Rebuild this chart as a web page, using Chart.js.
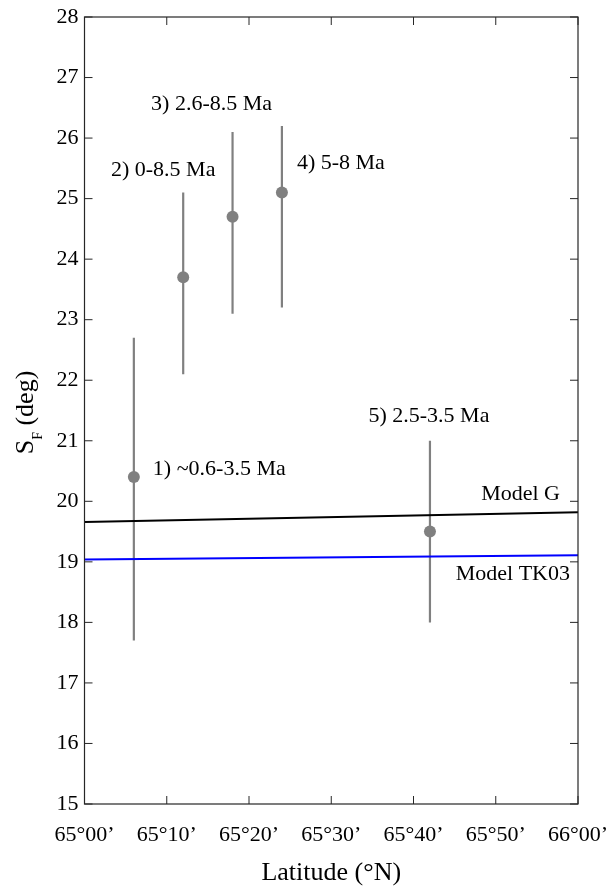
<!DOCTYPE html>
<html>
<head>
<meta charset="utf-8">
<script src="https://cdn.jsdelivr.net/npm/chart.js@4.4.0/dist/chart.umd.min.js"></script>
<style>
  html, body { margin: 0; padding: 0; background: #ffffff; }
  #wrap { width: 611px; height: 886px; }
</style>
</head>
<body>
<div id="wrap"><canvas id="c" width="611" height="886"></canvas></div>
<script>
// Site results: latitude (decimal degrees N), S_F mean and its confidence bounds (deg)
const siteLabels = ['1) ~0.6-3.5 Ma', '2) 0-8.5 Ma', '3) 2.6-8.5 Ma', '4) 5-8 Ma', '5) 2.5-3.5 Ma'];
const siteLat = [65.1, 65.2, 65.3, 65.4, 65.7];
const sfMean = [20.4, 23.7, 24.7, 25.1, 19.5];
const sfLow = [17.7, 22.1, 23.1, 23.2, 18.0];
const sfHigh = [22.7, 25.1, 26.1, 26.2, 21.0];

// Model predictions across the latitude window
const modelLat = [65.0, 66.0];
const modelG = [19.66, 19.82];
const modelTK03 = [19.04, 19.11];

// Axis ticks
const latTicks = [65.0, 65 + 1 / 6, 65 + 2 / 6, 65.5, 65 + 4 / 6, 65 + 5 / 6, 66.0];
const latTickLabels = ['65°00’', '65°10’', '65°20’', '65°30’', '65°40’', '65°50’', '66°00’'];
const sfTicks = [15, 16, 17, 18, 19, 20, 21, 22, 23, 24, 25, 26, 27, 28];

// Label placement (pixel offsets from the mark they describe)
const labelStyle = [
  { from: 'mean', dx: 19, dy: -8, align: 'left' },
  { from: 'high', dx: -20, dy: -22, align: 'center' },
  { from: 'high', dx: -21, dy: -28, align: 'center' },
  { from: 'mean', dx: 15, dy: -29, align: 'left' },
  { from: 'high', dx: -1, dy: -25, align: 'center' }
];

const SERIF = '"Liberation Serif", "Times New Roman", serif';
const TEXT = '#000000';
const AXIS = '#262626';
const MARK = '#808080';

const errorBarSets = siteLat.map((lat, i) => ({
  type: 'line',
  data: [{ x: lat, y: sfLow[i] }, { x: lat, y: sfHigh[i] }],
  borderColor: MARK,
  borderWidth: 2.2,
  pointRadius: 0,
  fill: false
}));

const modelSet = (vals, color) => ({
  type: 'line',
  data: modelLat.map((x, i) => ({ x, y: vals[i] })),
  borderColor: color,
  borderWidth: 2,
  pointRadius: 0,
  fill: false
});

const decorations = {
  id: 'decorations',
  afterDraw(chart) {
    const { ctx, chartArea: a, scales: { x, y } } = chart;
    ctx.save();

    // axes box
    ctx.strokeStyle = AXIS;
    ctx.lineWidth = 1.2;
    ctx.strokeRect(a.left, a.top, a.right - a.left, a.bottom - a.top);

    // inward tick marks on all four sides
    const tl = 8;
    ctx.lineWidth = 1;
    ctx.beginPath();
    latTicks.forEach(v => {
      const px = x.getPixelForValue(v);
      ctx.moveTo(px, a.bottom); ctx.lineTo(px, a.bottom - tl);
      ctx.moveTo(px, a.top); ctx.lineTo(px, a.top + tl);
    });
    sfTicks.forEach(v => {
      const py = y.getPixelForValue(v);
      ctx.moveTo(a.left, py); ctx.lineTo(a.left + tl, py);
      ctx.moveTo(a.right, py); ctx.lineTo(a.right - tl, py);
    });
    ctx.stroke();

    // site labels
    ctx.fillStyle = TEXT;
    ctx.font = '22px ' + SERIF;
    ctx.textBaseline = 'middle';
    siteLabels.forEach((t, i) => {
      const s = labelStyle[i];
      const px = x.getPixelForValue(siteLat[i]);
      const py = y.getPixelForValue(s.from === 'high' ? sfHigh[i] : sfMean[i]);
      ctx.textAlign = s.align;
      ctx.fillText(t, px + s.dx, py + s.dy);
    });

    // model labels
    ctx.textAlign = 'right';
    const last = modelLat.length - 1;
    ctx.fillText('Model G', a.right - 18, y.getPixelForValue(modelG[last]) - 18);
    ctx.fillText('Model TK03', a.right - 8, y.getPixelForValue(modelTK03[last]) + 19);

    // x axis title
    ctx.font = '26px ' + SERIF;
    ctx.textAlign = 'center';
    ctx.textBaseline = 'middle';
    ctx.fillText('Latitude (°N)', (a.left + a.right) / 2, 873);

    // y axis title with subscript
    const big = '26px ' + SERIF, small = '14px ' + SERIF;
    ctx.font = big;
    const wS = ctx.measureText('S').width;
    const wRest = ctx.measureText(' (deg)').width;
    ctx.font = small;
    const wF = ctx.measureText('F').width;
    const total = wS + wF + wRest;
    const cy = (a.top + a.bottom) / 2 + 2;
    ctx.translate(33, cy);
    ctx.rotate(-Math.PI / 2);
    ctx.textAlign = 'left';
    ctx.textBaseline = 'alphabetic';
    let tx = -total / 2;
    ctx.font = big;
    ctx.fillText('S', tx, 0);
    tx += wS;
    ctx.font = small;
    ctx.fillText('F', tx, 9);
    tx += wF;
    ctx.font = big;
    ctx.fillText(' (deg)', tx, 0);

    ctx.restore();
  }
};

new Chart(document.getElementById('c'), {
  type: 'scatter',
  data: {
    datasets: [
      {
        type: 'scatter',
        data: siteLat.map((lat, i) => ({ x: lat, y: sfMean[i] })),
        backgroundColor: MARK,
        borderWidth: 0,
        pointRadius: 6,
        pointHoverRadius: 6
      },
      modelSet(modelG, '#000000'),
      modelSet(modelTK03, '#0000ff'),
      ...errorBarSets
    ]
  },
  options: {
    responsive: false,
    animation: false,
    events: [],
    layout: { padding: { top: 17, right: 33, left: 0, bottom: 0 } },
    plugins: { legend: { display: false }, tooltip: { enabled: false } },
    scales: {
      x: {
        type: 'linear',
        min: 65,
        max: 66,
        afterBuildTicks: s => { s.ticks = latTicks.map(v => ({ value: v })); },
        afterFit: s => { s.height = 82; s.paddingLeft = 0; s.paddingRight = 0; },
        grid: { display: false, drawTicks: false },
        border: { display: false },
        ticks: {
          autoSkip: false,
          maxRotation: 0,
          padding: 18,
          color: TEXT,
          font: { family: SERIF, size: 22 },
          callback: (v, i) => latTickLabels[i]
        }
      },
      y: {
        type: 'linear',
        min: 15,
        max: 28,
        afterBuildTicks: s => { s.ticks = sfTicks.map(v => ({ value: v })); },
        afterFit: s => { s.width = 84.5; s.paddingTop = 0; s.paddingBottom = 0; },
        grid: { display: false, drawTicks: false },
        border: { display: false },
        ticks: {
          autoSkip: false,
          padding: 6,
          color: TEXT,
          font: { family: SERIF, size: 22 },
          callback: v => String(v)
        }
      }
    }
  },
  plugins: [decorations]
});
</script>
</body>
</html>
